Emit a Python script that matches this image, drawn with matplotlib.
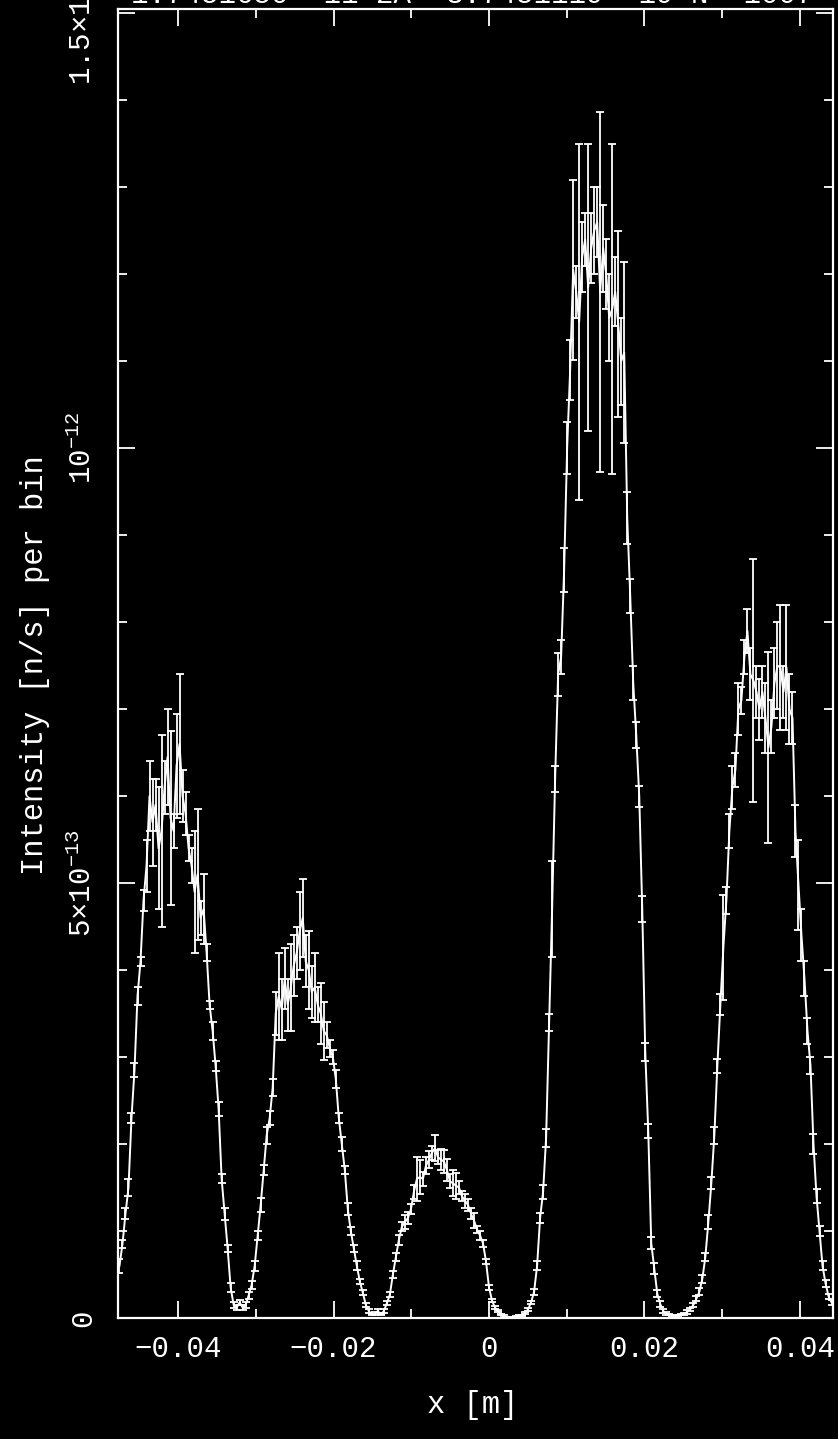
import numpy as np
import matplotlib
matplotlib.use('Agg')
import matplotlib.pyplot as plt
from matplotlib.ticker import FixedLocator, MultipleLocator

plt.rcParams['font.family'] = ['Liberation Mono', 'DejaVu Sans']
plt.rcParams['mathtext.fontset'] = 'custom'
plt.rcParams['mathtext.rm'] = 'Liberation Mono'
plt.rcParams['mathtext.it'] = 'Liberation Mono'

# detector range [m] (bin centres)
x_first = -0.04756
x_last = 0.04408

# intensity per bin, units of 1e-13 n/s
intensity = [
    # first peak
    0.6, 0.85, 1.2, 1.5, 2.3, 2.85, 3.7, 4.1, 4.8, 5.2,
    6.0, 5.7, 5.9, 5.4, 5.6, 6.1, 6.45, 5.75, 5.6, 6.35,
    6.6, 6.0, 5.8, 5.4, 5.2, 4.9, 5.1, 4.6, 4.7, 4.2,
    3.6, 3.3, 2.9, 2.4, 1.6, 1.2, 0.8, 0.35, 0.15, 0.12,
    0.18,
    # second peak
    0.12, 0.15, 0.26, 0.38, 0.6, 0.95, 1.3, 1.7, 2.1, 2.3,
    2.65, 3.5, 3.7, 3.55, 3.9, 3.6, 3.8, 4.05, 4.2, 4.45,
    4.6, 4.1, 4.0, 3.75, 3.8, 3.6, 3.5, 3.3, 3.25, 3.1,
    3.0, 2.75, 2.3, 2.0, 1.7, 1.25, 1.0, 0.8, 0.6, 0.42,
    0.29, 0.15, 0.08, 0.04, 0.05, 0.08,
    # third peak
    0.04, 0.08, 0.17, 0.27, 0.5, 0.7, 0.9, 1.05, 1.1, 1.15,
    1.25, 1.45, 1.6, 1.62, 1.6, 1.75, 1.82, 1.9, 1.95, 1.85,
    1.82, 1.8, 1.7, 1.57, 1.55, 1.52, 1.5, 1.4, 1.35, 1.3,
    1.2, 1.12, 1.02, 0.95, 0.86, 0.65, 0.35, 0.2, 0.12, 0.08,
    0.04, 0.02, 0.01, 0.01, 0.01, 0.02, 0.02, 0.03, 0.06, 0.1,
    0.18, 0.3, 0.6, 1.15, 1.45, 2.07,
    # fourth peak
    3.4, 4.7, 6.2, 7.4, 7.6, 8.6, 10.0, 10.9, 12.05, 11.8,
    11.45, 12.2, 12.4, 11.85, 12.3, 12.5, 12.6, 11.8, 12.3, 12.0,
    11.5, 11.6, 11.8, 11.43, 11.0, 11.1, 9.2, 8.3, 7.3, 6.7,
    6.0, 4.7, 3.06, 2.15, 0.86, 0.57, 0.28, 0.16, 0.08, 0.05,
    # fifth peak
    0.04, 0.03, 0.03, 0.03, 0.04, 0.05, 0.07, 0.1, 0.15, 0.22,
    0.3, 0.45, 0.7, 1.1, 1.55, 2.1, 2.9, 3.6, 4.26, 4.8,
    5.6, 6.1, 6.3, 7.0, 7.1, 7.6, 7.9, 7.4, 7.33, 7.2,
    7.0, 7.2, 6.9, 6.56, 6.8, 7.3, 7.5, 7.48, 7.2, 7.48,
    7.0, 6.9, 5.6, 4.98, 4.4, 3.9, 3.3, 2.9, 2.0, 1.4,
    1.0, 0.6, 0.4, 0.25, 0.18,
]

error = [
    0.08, 0.05, 0.06, 0.1, 0.06, 0.08, 0.1, 0.05, 0.12, 0.3,
    0.4, 0.5, 0.3, 0.7, 1.1, 0.3, 0.55, 1.0, 0.2, 0.6,
    0.8, 0.3, 0.25, 0.15, 0.2, 0.7, 0.75, 0.2, 0.4, 0.1,
    0.05, 0.1, 0.06, 0.08, 0.05, 0.07, 0.04, 0.05, 0.03, 0.03,
    0.03,
    0.03, 0.03, 0.04, 0.05, 0.06, 0.05, 0.08, 0.06, 0.1, 0.08,
    0.1, 0.25, 0.5, 0.35, 0.35, 0.3, 0.5, 0.35, 0.3, 0.45,
    0.45, 0.3, 0.45, 0.3, 0.4, 0.2, 0.35, 0.33, 0.15, 0.1,
    0.08, 0.1, 0.06, 0.08, 0.05, 0.07, 0.05, 0.04, 0.05, 0.03,
    0.03, 0.02, 0.02, 0.01, 0.02, 0.02,
    0.01, 0.02, 0.02, 0.03, 0.04, 0.05, 0.06, 0.05, 0.08, 0.07,
    0.06, 0.08, 0.25, 0.2, 0.08, 0.1, 0.1, 0.08, 0.15, 0.08,
    0.12, 0.13, 0.13, 0.08, 0.15, 0.15, 0.08, 0.06, 0.08, 0.07,
    0.06, 0.09, 0.04, 0.05, 0.04, 0.03, 0.03, 0.02, 0.02, 0.01,
    0.01, 0.01, 0.005, 0.005, 0.005, 0.005, 0.01, 0.01, 0.01, 0.02,
    0.02, 0.03, 0.05, 0.06, 0.08, 0.1,
    0.1, 0.55, 0.15, 0.25, 0.2, 0.25, 0.3, 0.35, 1.03, 0.3,
    2.05, 0.4, 0.3, 1.65, 0.4, 0.5, 0.4, 2.07, 0.5, 0.4,
    0.5, 1.9, 0.4, 1.07, 0.5, 1.04, 0.3, 0.2, 0.2, 0.15,
    0.12, 0.15, 0.1, 0.08, 0.07, 0.06, 0.04, 0.03, 0.02, 0.02,
    0.01, 0.01, 0.01, 0.01, 0.01, 0.01, 0.02, 0.02, 0.02, 0.03,
    0.04, 0.05, 0.05, 0.08, 0.07, 0.1, 0.08, 0.12, 0.6, 0.15,
    0.2, 0.25, 0.2, 0.3, 0.15, 0.2, 0.25, 0.3, 1.4, 0.3,
    0.35, 0.3, 0.4, 1.1, 0.3, 0.4, 0.5, 0.72, 0.3, 0.72,
    0.4, 0.3, 0.3, 0.52, 0.3, 0.2, 0.15, 0.1, 0.12, 0.08,
    0.06, 0.05, 0.04, 0.03, 0.03,
]

xtick_vals = [-0.04, -0.02, 0, 0.02, 0.04]
xtick_labels = ['\u22120.04', '\u22120.02', '0', '0.02', '0.04']
ytick_vals = [0, 5e-13, 1e-12, 1.5e-12]
ytick_labels = ['0', '5\u00d710$^{-13}$', '10$^{-12}$', '1.5\u00d710$^{-12}$']
header = '1.7451650  11 2A  3.7451119  19 N  1007'

y = np.array(intensity) * 1e-13
dy = np.array(error) * 1e-13
x = np.linspace(x_first, x_last, len(y))

W, H = 838, 1439
fig = plt.figure(figsize=(W / 100, H / 100), dpi=100, facecolor='black')
ax = fig.add_axes([118 / W, 1 - 1318 / H, (833 - 118) / W, (1318 - 9) / H])
ax.set_facecolor('black')

ax.errorbar(x, y, yerr=dy, color='white', lw=1.4, elinewidth=1.3,
            capsize=3, capthick=1.3)

ax.set_xlim(-0.04775, 0.04427)
ax.set_ylim(0, 1.505e-12)

ax.xaxis.set_major_locator(FixedLocator(xtick_vals))
ax.xaxis.set_minor_locator(MultipleLocator(0.01))
ax.set_xticklabels(xtick_labels)
ax.yaxis.set_major_locator(FixedLocator(ytick_vals))
ax.yaxis.set_minor_locator(MultipleLocator(1e-13))
ax.set_yticklabels(ytick_labels)

for s in ax.spines.values():
    s.set_color('white')
    s.set_linewidth(1.6)

ax.tick_params(which='both', direction='in', top=True, right=True,
               colors='white', width=1.3, labelsize=21)
ax.tick_params(which='major', length=12)
ax.tick_params(which='minor', length=6.5)
ax.tick_params(axis='x', pad=12)
ax.tick_params(axis='y', pad=15)
for lbl in ax.get_yticklabels():
    lbl.set_rotation(90)
    lbl.set_va('center')

fig.text(473 / W, 1 - 1405 / H, 'x [m]', color='white', fontsize=22,
         ha='center', va='center')
fig.text(35 / W, 1 - 665 / H, 'Intensity [n/s] per bin', color='white',
         fontsize=22, rotation=90, ha='center', va='center')
# run header, mostly above the top edge as in the original
fig.text(131 / W, 1 - 3 / H, header, color='white', fontsize=21,
         ha='left', va='baseline')

fig.savefig('out.png', dpi=100, facecolor='black')
